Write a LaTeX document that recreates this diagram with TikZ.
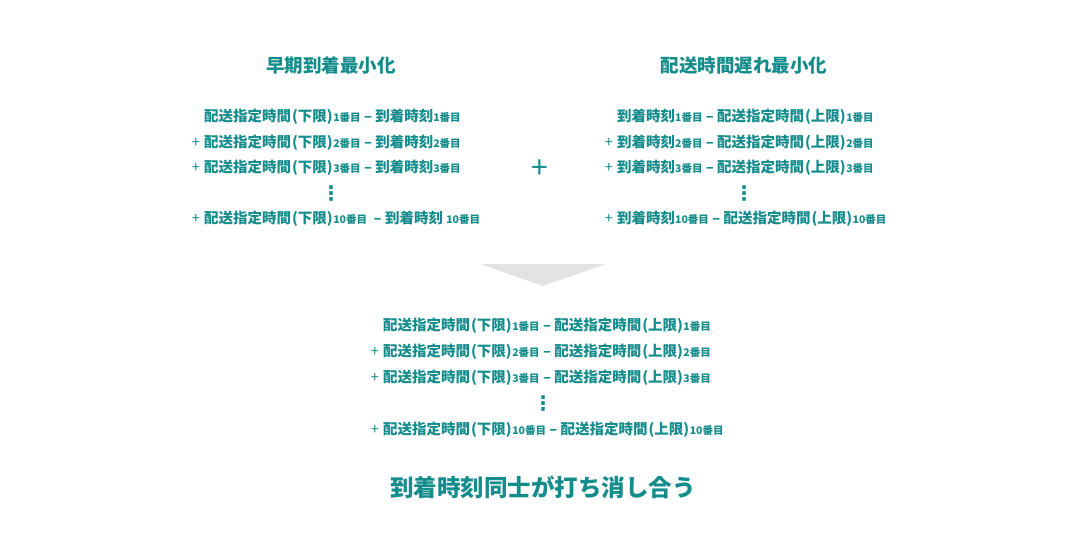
\documentclass[tikz,border=0pt]{standalone}
\usepackage{fontspec}
\setmainfont{Noto Sans CJK JP}
\newfontfamily\dv{DejaVu Sans}
\definecolor{tl}{HTML}{148C8C}
\newcommand{\bn}[1]{{\fontsize{10.5}{11}\selectfont #1番目}}
\newcommand{\vd}{{\dv\fontsize{20}{20}\selectfont ⋮}}
\newcommand{\ka}[1]{\kern1pt(#1)\kern0.5pt}
\begin{document}
\begin{tikzpicture}[x=1pt,y=-1pt,
  every node/.style={text=tl,font=\bfseries\fontsize{14.5}{15}\selectfont,inner sep=0pt},
  ln/.style={anchor=west},
  pl/.style={anchor=east,font=\fontsize{14.5}{15}\selectfont}]
\useasboundingbox (0,0) rectangle (1075,550);
\node[font=\bfseries\fontsize{18.5}{19}\selectfont] (t1) at (331,65) {早期到着最小化};
\node[font=\bfseries\fontsize{18.5}{19}\selectfont] (t2) at (744,65) {配送時間遅れ最小化};
% left
\node[ln] (l1) at (204,117) {配送指定時間\ka{下限}\bn{1} – 到着時刻\bn{1}};
\node[ln] (l2) at (204,143) {配送指定時間\ka{下限}\bn{2} – 到着時刻\bn{2}};
\node[ln] (l3) at (204,168) {配送指定時間\ka{下限}\bn{3} – 到着時刻\bn{3}};
\node (l4) at (331,194) {\vd};
\node[ln] (l5) at (204,219) {配送指定時間\ka{下限}\bn{10} \ – 到着時刻 \bn{10}};
\foreach \n in {l2,l3,l5} \node[pl] at ([xshift=-4]\n.west) {+};
% right
\node[ln] (r1) at (617,117) {到着時刻\bn{1} – 配送指定時間\ka{上限}\bn{1}};
\node[ln] (r2) at (617,143) {到着時刻\bn{2} – 配送指定時間\ka{上限}\bn{2}};
\node[ln] (r3) at (617,168) {到着時刻\bn{3} – 配送指定時間\ka{上限}\bn{3}};
\node (r4) at (744,194) {\vd};
\node[ln] (r5) at (617,219) {到着時刻\bn{10} – 配送指定時間\ka{上限}\bn{10}};
\foreach \n in {r2,r3,r5} \node[pl] at ([xshift=-4]\n.west) {+};
\node[font=\fontsize{30}{30}\selectfont] (p) at (540,169) {+};
% arrow
\fill[gray!22] (480,264) -- (606,264) -- (543,286) -- cycle;
% middle
\node[ln] (m1) at (383,326) {配送指定時間\ka{下限}\bn{1} – 配送指定時間\ka{上限}\bn{1}};
\node[ln] (m2) at (383,352) {配送指定時間\ka{下限}\bn{2} – 配送指定時間\ka{上限}\bn{2}};
\node[ln] (m3) at (383,378) {配送指定時間\ka{下限}\bn{3} – 配送指定時間\ka{上限}\bn{3}};
\node (m4) at (543,404) {\vd};
\node[ln] (m5) at (383,430) {配送指定時間\ka{下限}\bn{10} – 配送指定時間\ka{上限}\bn{10}};
\foreach \n in {m2,m3,m5} \node[pl] at ([xshift=-4]\n.west) {+};
\node[font=\bfseries\fontsize{23.5}{24}\selectfont] (b) at (543,487) {到着時刻同士が打ち消し合う};
\end{tikzpicture}
\end{document}
